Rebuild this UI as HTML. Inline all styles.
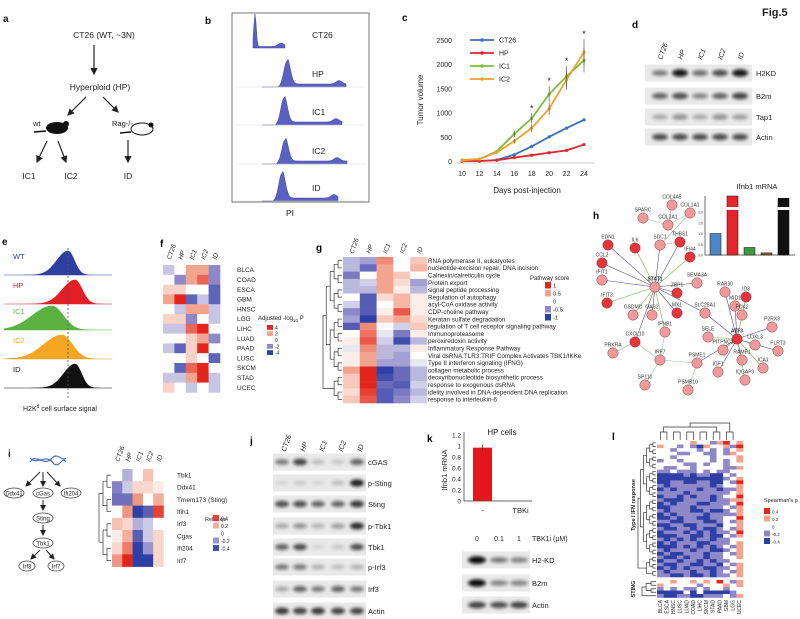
<!DOCTYPE html>
<html><head><meta charset="utf-8">
<style>
html,body{margin:0;padding:0;background:#fff;}
svg{display:block;font-family:"Liberation Sans",Arial,sans-serif;}
</style></head>
<body>
<svg id="fig" width="800" height="619" viewBox="0 0 800 619" xmlns="http://www.w3.org/2000/svg">
<defs>
<filter id="blur" x="-50%" y="-100%" width="200%" height="300%"><feGaussianBlur stdDeviation="1.6"/></filter>
<marker id="arr" markerWidth="6" markerHeight="6" refX="5" refY="3" orient="auto"><path d="M0,0L6,3L0,6z" fill="#222"/></marker>
</defs>
<text x="762" y="16" font-size="11" font-weight="bold" fill="#222">Fig.5</text>

<!-- panel a -->
<g font-size="8.5" fill="#222">
<text x="3" y="22" font-size="10" font-weight="bold">a</text>
<text x="104" y="38" text-anchor="middle">CT26 (WT, ~3N)</text>
<line x1="94" y1="45" x2="94" y2="74" stroke="#222" stroke-width="1.2" marker-end="url(#arr)"/>
<text x="100" y="90" text-anchor="middle">Hyperploid (HP)</text>
<line x1="86" y1="97" x2="68" y2="115" stroke="#222" stroke-width="1.2" marker-end="url(#arr)"/>
<line x1="103" y1="97" x2="118" y2="112" stroke="#222" stroke-width="1.2" marker-end="url(#arr)"/>
<text x="33" y="126" font-size="7.5">wt</text>
<g><ellipse cx="57" cy="128" rx="11" ry="6" fill="#111"/><circle cx="66" cy="124" r="3" fill="#111"/><path d="M46,131 L34,132" stroke="#111" stroke-width="1.5"/></g>
<text x="112" y="126" font-size="7.5">Rag-/-</text>
<g><ellipse cx="142" cy="129" rx="11" ry="6" fill="#fff" stroke="#111" stroke-width="1"/><circle cx="151" cy="125" r="2.5" fill="#111"/><path d="M131,132 L120,133" stroke="#111" stroke-width="1.5"/></g>
<line x1="47" y1="141" x2="37" y2="162" stroke="#222" stroke-width="1.2" marker-end="url(#arr)"/>
<line x1="58" y1="141" x2="66" y2="162" stroke="#222" stroke-width="1.2" marker-end="url(#arr)"/>
<line x1="128" y1="140" x2="128" y2="162" stroke="#222" stroke-width="1.2" marker-end="url(#arr)"/>
<text x="29" y="179" text-anchor="middle">IC1</text>
<text x="71" y="179" text-anchor="middle">IC2</text>
<text x="128" y="179" text-anchor="middle">ID</text>
</g>

<!-- panel b -->
<g id="pb">
<text x="205" y="24" font-size="10" font-weight="bold">b</text>
<rect x="232" y="13" width="137" height="189" fill="none" stroke="#555" stroke-width="0.8"/>
<text x="290" y="216" font-size="8.5" text-anchor="middle" fill="#222">PI</text>
</g>

<!-- panel c -->
<g id="pc">
<text x="402" y="21" font-size="10" font-weight="bold">c</text>
<text x="527" y="193" font-size="8" text-anchor="middle" fill="#222">Days post-injection</text>
<text x="0" y="0" font-size="8" text-anchor="middle" fill="#222" transform="translate(423,100) rotate(-90)">Tumor volume</text>
</g>

<!-- panel d -->
<g id="pd">
<text x="632" y="28" font-size="10" font-weight="bold">d</text>
</g>

<!-- panel e -->
<g id="pe">
<text x="2" y="245" font-size="10" font-weight="bold">e</text>
<text x="60" y="411" font-size="7" text-anchor="middle" fill="#222">H2K<tspan font-size="5" dy="-3">d</tspan><tspan dy="3"> cell surface signal</tspan></text>
</g>

<!-- panel f -->
<g id="pf">
<text x="160" y="247" font-size="10" font-weight="bold">f</text>
<text x="258" y="320" font-size="6" fill="#222">Adjusted -log<tspan font-size="4.5" dy="2">10</tspan><tspan dy="-2"> P</tspan></text>
</g>

<!-- panel g -->
<g id="pg">
<text x="316" y="251" font-size="10" font-weight="bold">g</text>
<text x="530" y="280" font-size="6" fill="#222">Pathway score</text>
</g>

<!-- panel h -->
<g id="ph">
<text x="593" y="219" font-size="10" font-weight="bold">h</text>
<text x="757" y="189" font-size="7.5" text-anchor="middle" fill="#222">Ifnb1 mRNA</text>
</g>

<!-- panel i -->
<g id="pi" font-size="6.5" fill="#222">
<text x="8" y="457" font-size="10" font-weight="bold">i</text>
<path d="M30,462 C36,452 44,468 52,458 C58,452 62,462 66,458 M30,458 C38,466 46,452 54,464 C60,468 62,456 66,462" stroke="#4a6fb5" stroke-width="1.2" fill="none"/>
<line x1="40" y1="472" x2="26" y2="486" stroke="#222" marker-end="url(#arr)"/>
<line x1="43" y1="472" x2="43" y2="486" stroke="#222" marker-end="url(#arr)"/>
<line x1="47" y1="472" x2="60" y2="486" stroke="#222" marker-end="url(#arr)"/>
<ellipse cx="14" cy="493" rx="10" ry="5" fill="none" stroke="#444" stroke-width="0.8"/><text x="14" y="495.5" text-anchor="middle" font-size="6">Ddx41</text>
<ellipse cx="43" cy="493" rx="10" ry="5" fill="none" stroke="#444" stroke-width="0.8"/><text x="43" y="495.5" text-anchor="middle" font-size="6">cGas</text>
<ellipse cx="71" cy="493" rx="10" ry="5" fill="none" stroke="#444" stroke-width="0.8"/><text x="71" y="495.5" text-anchor="middle" font-size="6">Ifi204</text>
<line x1="43" y1="500" x2="43" y2="510" stroke="#222" marker-end="url(#arr)"/>
<ellipse cx="43" cy="518" rx="10" ry="5" fill="none" stroke="#444" stroke-width="0.8"/><text x="43" y="520.5" text-anchor="middle" font-size="6">Sting</text>
<line x1="43" y1="525" x2="43" y2="535" stroke="#222" marker-end="url(#arr)"/>
<ellipse cx="43" cy="543" rx="10" ry="5" fill="none" stroke="#444" stroke-width="0.8"/><text x="43" y="545.5" text-anchor="middle" font-size="6">Tbk1</text>
<line x1="40" y1="550" x2="31" y2="559" stroke="#222" marker-end="url(#arr)"/>
<line x1="46" y1="550" x2="54" y2="559" stroke="#222" marker-end="url(#arr)"/>
<ellipse cx="27" cy="566" rx="8" ry="5" fill="none" stroke="#444" stroke-width="0.8"/><text x="27" y="568.5" text-anchor="middle" font-size="6">Irf3</text>
<ellipse cx="56" cy="566" rx="8" ry="5" fill="none" stroke="#444" stroke-width="0.8"/><text x="56" y="568.5" text-anchor="middle" font-size="6">Irf7</text>
<text x="205" y="521" font-size="5.5">Rel. expr</text>
</g>

<!-- panel j -->
<g id="pj">
<text x="250" y="444" font-size="10" font-weight="bold">j</text>
</g>

<!-- panel k -->
<g id="pk">
<text x="427" y="442" font-size="10" font-weight="bold">k</text>
<text x="502" y="435" font-size="8" text-anchor="middle" fill="#222">HP cells</text>
<text x="0" y="0" font-size="7.5" text-anchor="middle" fill="#222" transform="translate(447,470) rotate(-90)">Ifnb1 mRNA</text>
<text x="532" y="541" font-size="7" fill="#222">TBK1i (µM)</text>
</g>

<!-- panel l -->
<g id="pl">
<text x="612" y="440" font-size="10" font-weight="bold">l</text>
<text x="0" y="0" font-size="5.5" font-weight="bold" text-anchor="middle" fill="#222" transform="translate(635,505) rotate(-90)">Type I IFN response</text>
<text x="0" y="0" font-size="5.5" font-weight="bold" text-anchor="middle" fill="#222" transform="translate(635,589) rotate(-90)">STING</text>
<text x="764" y="502" font-size="5.5" fill="#222">Spearman's ρ</text>
</g>
</svg>

<script>
// ---------- data ----------
const tumorDays = [10, 12, 14, 16, 18, 20, 22, 24];
const tumorCT26 = [0, 0, 20, 130, 300, 500, 680, 850];
const tumorHP = [0, 0, 15, 70, 120, 170, 220, 340];
const tumorIC1 = [20, 40, 200, 560, 880, 1380, 1750, 2080];
const tumorIC2 = [10, 40, 180, 410, 680, 1080, 1680, 2250];
const tumorTicks = [0, 500, 1000, 1500, 2000, 2500];
const tumorStarDays = [18, 20, 22, 24];

const fRows = ["BLCA","COAD","ESCA","GBM","HNSC","LGG","LIHC","LUAD","PAAD","LUSC","SKCM","STAD","UCEC"];
const lineNames = ["CT26","HP","IC1","IC2","ID"];
const fVals = [[-1,0,2,2,-2],[0,-2,2,3,-2],[1,1,0,0,-3],[2,4,-3,-1,-3],[0,-1,2,2,-1],[1,1,-2,0,-1],[-1,-1,3,4,0],[0,0,1,2,-2],[-1,-3,1,4,0],[0,0,1,0,-3],[0,-3,3,4,0],[-1,-1,2,4,-1],[1,0,-1,0,-1]];
const fLegend = [4, 2, 0, -2, -4];

const gRows = ["RNA polymerase II, eukaryotes","nucleotide-excision repair, DNA incision","Calnexin/calreticulin cycle","Protein export","signal peptide processing","Regulation of autophagy","acyl-CoA oxidase activity","CDP-choline pathway","Keratan sulfate degradation","regulation of T cell receptor signaling pathway","Immunoproteasome","peroxiredoxin activity","Inflammatory Response Pathway","Viral dsRNA:TLR3:TRIF Complex Activates TBK1/IKKe","Type II interferon signaling (IFNG)","collagen metabolic process","deoxyribonucleotide biosynthetic process","response to exogenous dsRNA","idelity involved in DNA-dependent DNA replication","response to interleukin-6"];
const gVals = [[-0.3,-0.4,0.6,0,0.3],[-0.3,-0.7,0.5,0,0.4],[-0.6,0,0.5,0.3,0],[-0.3,-0.2,0.5,0.2,-0.4],[-0.3,-0.3,0.5,0.1,-0.3],[0,-0.8,0.2,0.4,0.1],[-0.2,-0.8,0,0.4,0.1],[-0.5,-0.8,0.1,0.8,0.1],[-0.4,-1,0.3,0.5,0.2],[-0.8,0.6,0,-0.2,0.3],[0,0.7,-0.1,-0.6,0.1],[0.1,0.8,-0.2,-0.9,-0.3],[-0.1,0.6,-0.3,-0.3,0.1],[0.1,0.5,-0.3,-0.4,0],[0.1,0.5,-0.4,-0.4,-0.1],[0.5,1,-1,-0.7,-0.3],[0.3,1,-0.9,-0.7,-0.3],[0.3,1,-0.7,-0.8,-0.2],[0.2,0.9,-0.8,-0.6,-0.3],[0.3,0.8,-0.8,-0.5,-0.2]];
const gLegend = [1, 0.5, 0, -0.5, -1];

const iRows = ["Tbk1","Ddx41","Tmem173 (Sting)","Ifih1","Irf3","Cgas","Ifi204","Irf7"];
const iVals = [[0,-0.15,0,0.15,0],[-0.25,-0.1,0.1,0.1,0.05],[-0.3,-0.3,0.25,0,0.2],[0,0.25,-0.45,-0.35,0.4],[0.15,0.1,-0.15,-0.1,0],[0.05,0.2,-0.35,-0.1,0.1],[0.1,0.3,-0.45,-0.2,0.1],[0.25,0.45,-0.45,-0.45,0.1]];
const iLegend = [0.4, 0.2, 0, -0.2, -0.4];

const lCols = ["BLCA","ESCA","HNSC","LUSC","LUAD","COAD","LIHC","SKCM","STAD","PAAD","GBM","LGG","UCEC"];
const lIfnRows = ["2222232213423","3221210322314","2212221212123","2221122112132","2212222212223","1221222212123","2222112122122","2112212222113","1121112121122","0000101100212","0000000000123","0011001100214","1011111101223","0101110110113","1111011111123","0110101101224","1000111101133","0101110011124","0011101111213","1011100100123","0101111011113","0010110011224","1100111001213","0011001110223","1001101001213","0111010101124","0001100100213","1010101101122","0101110011123","0001010101213","1011101100123","0100111011213","1001011011223","0110110101122","1001100110213","0101011001123","1011101101213","1100100101123"];
const lStingRows = ["2232232324213","3222221222323","1212112122122","0000202000012","1001100111213"];
const lLevels = [-0.4, -0.2, 0, 0.2, 0.4];

const ifnbGroups = ["CT26","HP","IC1","IC2","ID"];
const ifnbValues = [1.0, 2.6, 0.35, 0.1, 2.45];
const kGroups = ["-","TBKi"];
const kValues = [0.97, 0.0];
const kTicks = [0, 0.2, 0.4, 0.6, 0.8, 1, 1.2];

const dRows = ["H2KD","B2m","Tap1","Actin"];
const dBands = [[0.5,0.95,0.55,0.7,0.95],[0.6,0.7,0.45,0.6,0.75],[0.3,0.4,0.3,0.4,0.35],[0.7,0.7,0.7,0.7,0.7]];
const jRows = ["cGAS","p-Sting","Sting","p-Tbk1","Tbk1","p-Irf3","Irf3","Actin"];
const jBands = [[0.5,0.75,0.2,0.15,0.6],[0.1,0.15,0.1,0.2,0.9],[0.7,0.7,0.6,0.6,0.8],[0.3,0.4,0.25,0.35,0.85],[0.6,0.7,0.1,0.15,0.7],[0.5,0.5,0.25,0.2,0.25],[0.3,0.6,0.5,0.6,0.5],[0.8,0.75,0.8,0.75,0.75]];
const kDoses = ["0","0.1","1"];
const kRows = ["H2-KD","B2m","Actin"];
const kBands = [[1,0.5,0.45],[1,0.45,0.45],[0.75,0.7,0.75]];

const bNames = ["CT26","HP","IC1","IC2","ID"];
const bPeakX = [255, 287, 284, 285, 282];
const bPeakH = [34, 26, 27, 24, 28];
const bTailEnd = [285, 346, 342, 347, 338];
const eNames = ["WT","HP","IC1","IC2","ID"];
const eColors = ["#2e3f9f","#e31f26","#5cb240","#f5a623","#111111"];
const ePeakX = [68, 75, 52, 62, 75];
const ePeakSd = [8, 9, 14, 13, 8];

const netNodes = [["COL4A5",672,205,0],["SPARC",643,218,0],["COL3A1",668,225,0],["COL1A1",690,213,0],["SDC1",660,245,0],["THBS1",680,242,1],["IFI44",690,257,1],["EDN1",608,245,1],["IL6",635,248,1],["CCL2",602,263,1],["IFIT1",602,280,0],["IFIT3",607,303,1],["STAT1",655,287,0],["SEMA3A",697,283,0],["ZBP1",677,293,1],["GSDMD",633,315,0],["OAS2",652,315,0],["MX1",677,313,1],["IFNB1",665,332,0],["CXCL10",635,342,1],["PRKRA",613,353,0],["IRF7",660,360,0],["SP110",645,385,0],["PSME1",697,363,0],["PSMB10",688,390,0],["RAB30",725,292,0],["ID3",746,297,1],["MID1",735,306,0],["SLC25A1",705,313,0],["PCK2",742,315,0],["P2RX3",772,327,0],["ATF3",737,339,1],["SELE",708,337,0],["LOXL3",755,345,0],["FLRT3",778,351,0],["PITPNC1",723,350,0],["RAMB1",742,360,0],["ICA1",763,368,0],["IGF1",718,372,0],["IQGAP3",745,380,0]];
const netEdges = [["STAT1","EDN1"],["STAT1","IL6"],["STAT1","CCL2"],["STAT1","IFIT1"],["STAT1","IFIT3"],["STAT1","SDC1"],["STAT1","THBS1"],["STAT1","IFI44"],["STAT1","SEMA3A"],["STAT1","ZBP1"],["STAT1","GSDMD"],["STAT1","OAS2"],["STAT1","MX1"],["STAT1","IFNB1"],["STAT1","CXCL10"],["STAT1","SLC25A1"],["IRF7","IFNB1"],["IRF7","CXCL10"],["IRF7","PSME1"],["IRF7","SP110"],["CXCL10","PRKRA"],["PSME1","PSMB10"],["ATF3","PSME1"],["ATF3","SELE"],["ATF3","RAB30"],["ATF3","ID3"],["ATF3","MID1"],["ATF3","PCK2"],["ATF3","P2RX3"],["ATF3","LOXL3"],["ATF3","FLRT3"],["ATF3","PITPNC1"],["ATF3","RAMB1"],["ATF3","ICA1"],["ATF3","IGF1"],["ATF3","IQGAP3"],["ATF3","SLC25A1"],["SPARC","COL3A1"],["COL3A1","COL1A1"],["COL4A5","COL3A1"],["COL1A1","SDC1"],["SDC1","THBS1"],["COL3A1","THBS1"]];

// ---------- helpers ----------
const NS = "http://www.w3.org/2000/svg";
const fig = document.getElementById("fig");
function mk(tag, attrs, parent) {
  const e = document.createElementNS(NS, tag);
  for (const k in attrs) e.setAttribute(k, attrs[k]);
  (parent || fig).appendChild(e);
  return e;
}
function mix(a, b, t) {
  const pa = [parseInt(a.slice(1,3),16),parseInt(a.slice(3,5),16),parseInt(a.slice(5,7),16)];
  const pb = [parseInt(b.slice(1,3),16),parseInt(b.slice(3,5),16),parseInt(b.slice(5,7),16)];
  return "rgb(" + pa.map((v,i)=>Math.round(v+(pb[i]-v)*t)).join(",") + ")";
}
function divColor(v, max) {
  let t = Math.max(-1, Math.min(1, v / max));
  if (t >= 0) return t < 0.5 ? mix("#ffffff", "#f3a48e", t*2) : mix("#f3a48e", "#e3261d", (t-0.5)*2);
  t = -t;
  return t < 0.5 ? mix("#ffffff", "#8e88c8", t*2) : mix("#8e88c8", "#2e3fa5", (t-0.5)*2);
}
function heatmap(g, rows, vals, max, x0, y0, cw, rh) {
  rows.forEach((r, i) => {
    vals[i].forEach((v, j) => {
      const c = mk("rect", {x: x0 + j*cw, y: y0 + i*rh, width: cw + 0.3, height: rh + 0.3, fill: divColor(v, max)}, g);
      
      
    });
  });
}
function colLabels(g, names, x0, cw, y, fs) {
  names.forEach((n, j) => {
    const t = mk("text", {x: 0, y: 0, "font-size": fs, "font-style": "italic", fill: "#222", transform: `translate(${x0 + j*cw + cw/2 + 2},${y}) rotate(-70)`}, g);
    t.textContent = n;
    
    
  });
}
function rowLabels(g, names, x, y0, rh, fs) {
  names.forEach((n, i) => {
    const t = mk("text", {x: x, y: y0 + i*rh + rh/2 + fs*0.35, "font-size": fs, fill: "#222"}, g);
    t.textContent = n;
    
    
  });
}
function legend(g, levels, max, x, y0, step, fs) {
  levels.forEach((v, i) => {
    const r = mk("rect", {x: x, y: y0 + i*step, width: 6, height: step - 1.5, fill: divColor(v, max)}, g);
    
    
    const t = mk("text", {x: x + 8, y: y0 + i*step + step*0.7, "font-size": fs, fill: "#222"}, g);
    t.textContent = v;
    
    
  });
}
function blot(g, rows, bands, lanes, x0, x1, ys, rh, bw, labelX) {
  rows.forEach((name, i) => {
    const bg = mk("rect", {x: x0, y: ys[i] - rh/2, width: x1 - x0, height: rh, fill: "#e9e9e9"}, g);
    
    
    bands[i].forEach((v, j) => {
      const b = mk("ellipse", {cx: lanes[j], cy: ys[i], rx: bw, ry: 2 + v*1.8, fill: "#111", opacity: v, filter: "url(#blur)"}, g);
      
      
    });
    const t = mk("text", {x: labelX, y: ys[i] + 3, "font-size": 7.5, fill: "#222"}, g);
    t.textContent = name;
    
    
  });
}
function dendro(g, x0, x1, ys) {
  let pts = ys.map(y => [x1, y]);
  let lvl = 0;
  while (pts.length > 1) {
    const nxt = [];
    lvl++;
    const xl = x1 - (x1 - x0) * Math.min(1, lvl / (Math.log2(ys.length) + 0.5));
    for (let i = 0; i < pts.length; i += 2) {
      if (i + 1 < pts.length) {
        const a = pts[i], b = pts[i+1];
        const p = mk("path", {d: `M${a[0]},${a[1]}H${xl}V${b[1]}H${b[0]}`, stroke: "#333", "stroke-width": 0.7, fill: "none"}, g);
        
        
        nxt.push([xl, (a[1] + b[1]) / 2]);
      } else nxt.push(pts[i]);
    }
    pts = nxt;
  }
}

// ---------- panel b ----------
(function(){
  const g = document.getElementById("pb");
  const base = [48, 87, 125, 164, 201];
  bNames.forEach((n, i) => {
    let d = `M${i===0?253:262},${base[i]}`;
    for (let x = (i===0?253:262); x <= bTailEnd[i]; x += 1) {
      const sd = i === 0 ? 1.2 : 3.2;
      let h = bPeakH[i] * Math.exp(-Math.pow(x - bPeakX[i], 2) / (2*sd*sd));
      if (x > bPeakX[i]) h += (i===0 ? 1.5 : 3);
      h += 3.5 * Math.exp(-Math.pow(x - (bPeakX[i] + (i===0?26:52)), 2) / 18);
      if (x < bPeakX[i] - 8) h = Math.max(0, h - 0.5);
      d += `L${x},${base[i] - h}`;
    }
    d += `L${bTailEnd[i]},${base[i]}Z`;
    const p = mk("path", {d: d, fill: "#5b61c1", stroke: "#3e44a6", "stroke-width": 0.5}, g);
    
    
    if (i > 0) {
      const l = mk("line", {x1: 236, x2: 365, y1: base[i], y2: base[i], stroke: "#ddd", "stroke-width": 0.6}, g);
      
      
    }
    const t = mk("text", {x: 312, y: base[i] - 10, "font-size": 8.5, fill: "#222"}, g);
    t.textContent = n;
    
    
  });
})();

// ---------- panel c ----------
(function(){
  const g = document.getElementById("pc");
  const xS = d => 462 + (d - 10) * (584 - 462) / 14;
  const yS = v => 161 - v * 121 / 2500;
  const ax = mk("line", {x1: 455, x2: 595, y1: 163, y2: 163, stroke: "#999", "stroke-width": 0.6}, g);
  
  
  tumorTicks.forEach(v => {
    const t = mk("text", {x: 452, y: yS(v) + 3, "font-size": 7, "text-anchor": "end", fill: "#222"}, g);
    t.textContent = v;
    
    
  });
  tumorDays.forEach(d => {
    const t = mk("text", {x: xS(d), y: 176, "font-size": 7, "text-anchor": "middle", fill: "#222"}, g);
    t.textContent = d;
    
    
  });
  const series = [["CT26", tumorCT26, "#3a6fc0"], ["HP", tumorHP, "#e0262a"], ["IC1", tumorIC1, "#7cbd3b"], ["IC2", tumorIC2, "#f2a02c"]];
  series.forEach((s, k) => {
    const pl = mk("polyline", {points: tumorDays.map((d, i) => xS(d) + "," + yS(s[1][i])).join(" "), fill: "none", stroke: s[2], "stroke-width": 1.8}, g);
    
    
    tumorDays.forEach((d, i) => {
      const c = mk("circle", {cx: xS(d), cy: yS(s[1][i]), r: 1.6, fill: s[2]}, g);
      
      
      if (k >= 2 && i >= 3) {
        const e = mk("line", {x1: xS(d), x2: xS(d), y1: yS(s[1][i] * 1.12), y2: yS(s[1][i] * 0.88), stroke: "#444", "stroke-width": 0.6}, g);
        
        
      }
    });
    const ly = 40 + k * 13;
    const ll = mk("line", {x1: 470, x2: 494, y1: ly, y2: ly, stroke: s[2], "stroke-width": 1.8}, g);
    
    
    const lc = mk("circle", {cx: 482, cy: ly, r: 1.8, fill: s[2]}, g);
    
    
    const lt = mk("text", {x: 499, y: ly + 2.5, "font-size": 7, fill: "#222"}, g);
    lt.textContent = s[0];
    
    
  });
  tumorStarDays.forEach(d => {
    const i = tumorDays.indexOf(d);
    const top = Math.max(tumorIC1[i], tumorIC2[i]) * 1.12;
    const t = mk("text", {x: xS(d), y: yS(top) - 2, "font-size": 9, "text-anchor": "middle", fill: "#222"}, g);
    t.textContent = "*";
    
    
  });
})();

// ---------- panel d ----------
(function(){
  const g = document.getElementById("pd");
  const lanes = [660, 680, 700, 720, 740];
  colLabels(g, lineNames, 650, 20, 60, 7);
  blot(g, dRows, dBands, lanes, 645, 752, [73, 96, 117, 137], 17, 8, 756);
})();

// ---------- panel e ----------
(function(){
  const g = document.getElementById("pe");
  const base = [275, 304, 330, 359, 388];
  eNames.forEach((n, i) => {
    let d = `M4,${base[i]}`;
    for (let x = 4; x <= 112; x += 1) {
      const sd = x < ePeakX[i] ? ePeakSd[i] * 1.4 : ePeakSd[i] * 0.8;
      const h = 24 * Math.exp(-Math.pow(x - ePeakX[i], 2) / (2*sd*sd));
      d += `L${x},${base[i] - h}`;
    }
    d += `L112,${base[i]}Z`;
    const p = mk("path", {d: d, fill: eColors[i], stroke: eColors[i], "stroke-width": 0.6}, g);
    
    
    const t = mk("text", {x: 13, y: base[i] - 16, "font-size": 7.5, fill: eColors[i]}, g);
    t.textContent = n;
    
    
  });
  const dl = mk("line", {x1: 68, x2: 68, y1: 248, y2: 400, stroke: "#555", "stroke-width": 0.8, "stroke-dasharray": "2,2"}, g);
  
  
})();

// ---------- panel f ----------
(function(){
  const g = document.getElementById("pf");
  const x0 = 163, cw = 11.4, y0 = 265, rh = 9.8;
  colLabels(g, lineNames, x0, cw, 260, 6.5);
  heatmap(g, fRows, fVals, 4, x0, y0, cw, rh);
  rowLabels(g, fRows, 237, y0, rh, 6.5);
  legend(g, fLegend, 4, 267, 325, 6.3, 5);
})();

// ---------- panel g ----------
(function(){
  const g = document.getElementById("pg");
  const x0 = 343, cw = 16.8, y0 = 257, rh = 7.3;
  colLabels(g, lineNames, x0, cw, 254, 6.5);
  heatmap(g, gRows, gVals, 1, x0, y0, cw, rh);
  rowLabels(g, gRows, 428, y0, rh, 6.3);
  dendro(g, 323, 342, gRows.map((r, i) => y0 + i*rh + rh/2));
  legend(g, gLegend, 1, 545, 282, 8, 5.8);
})();

// ---------- panel h ----------
(function(){
  const g = document.getElementById("ph");
  const pos = {};
  netNodes.forEach(n => pos[n[0]] = n);
  netEdges.forEach((e, k) => {
    const a = pos[e[0]], b = pos[e[1]];
    const col = e[0] === "ATF3" ? (k % 2 ? "#7ab648" : "#4f4f9a") : (e[0] === "STAT1" ? (k % 3 === 0 ? "#4f4f9a" : (k % 3 === 1 ? "#7ab648" : "#555")) : "#9cc0a4");
    const l = mk("line", {x1: a[1], y1: a[2], x2: b[1], y2: b[2], stroke: col, "stroke-width": 0.6}, g);
    
    
  });
  netNodes.forEach(n => {
    const c = mk("circle", {cx: n[1], cy: n[2], r: 5.2, fill: n[3] ? "#e5343a" : "#ee9a9c", stroke: "#8a3a3a", "stroke-width": 0.5}, g);
    
    
    const t = mk("text", {x: n[1], y: n[2] - 6.5, "font-size": 5, "text-anchor": "middle", fill: "#333", "font-weight": (n[0]==="STAT1"||n[0]==="ATF3") ? "bold" : "normal"}, g);
    t.textContent = n[0];
    
    
  });
  const yB = v => v <= 2 ? 255 - v * (255 - 212) / 2 : 205 - (v - 2) * 15;
  const ax = mk("path", {d: "M705,196V255H795", stroke: "#333", "stroke-width": 0.7, fill: "none"}, g);
  
  
  const cols = ["#4d86c6", "#e3262b", "#3e9a3a", "#8b5a2b", "#111"];
  ifnbValues.forEach((v, i) => {
    const x = 710 + i * 17;
    const r = mk("rect", {x: x, y: yB(v), width: 11, height: 255 - yB(v), fill: cols[i], stroke: "#111", "stroke-width": 0.5}, g);
    
    
    if (v > 2) {
      const br = mk("rect", {x: x - 1, y: 207, width: 13, height: 3, fill: "#fff"}, g);
      
      
    }
  });
  [0, 0.5, 1, 1.5, 2].forEach(v => {
    const t = mk("text", {x: 703, y: yB(v) + 1.5, "font-size": 3.5, "text-anchor": "end", fill: "#333"}, g);
    t.textContent = v.toFixed(1);
    
    
  });
})();

// ---------- panel i ----------
(function(){
  const g = document.getElementById("pi");
  const x0 = 112, cw = 10.3, y0 = 469, rh = 12.2;
  colLabels(g, lineNames, x0, cw, 462, 6.5);
  heatmap(g, iRows, iVals, 0.45, x0, y0, cw, rh);
  rowLabels(g, iRows, 177, y0, rh, 6.5);
  dendro(g, 97, 111, iRows.map((r, i) => y0 + i*rh + rh/2));
  legend(g, iLegend, 0.45, 213, 515, 7.5, 5);
})();

// ---------- panel j ----------
(function(){
  const g = document.getElementById("pj");
  const lanes = [282, 300, 318, 338, 357];
  colLabels(g, lineNames, 274, 19, 452, 7);
  blot(g, jRows, jBands, lanes, 273, 366, [462, 483, 504, 526, 547, 567, 589, 611], 17, 7, 368);
})();

// ---------- panel k ----------
(function(){
  const g = document.getElementById("pk");
  const yK = v => 501 - v * (501 - 435) / 1.2;
  const ax = mk("path", {d: "M464,432V501H532", stroke: "#333", "stroke-width": 0.7, fill: "none"}, g);
  
  
  kTicks.forEach(v => {
    const t = mk("text", {x: 461, y: yK(v) + 2.5, "font-size": 6.5, "text-anchor": "end", fill: "#222"}, g);
    t.textContent = v;
    
    
  });
  kValues.forEach((v, i) => {
    const x = 473 + i * 38;
    const r = mk("rect", {x: x, y: yK(v), width: 19, height: 501 - yK(v), fill: "#e3161b"}, g);
    
    
    const t = mk("text", {x: x + 9.5, y: 513, "font-size": 7.5, "text-anchor": "middle", fill: "#222"}, g);
    t.textContent = kGroups[i];
    
    
  });
  const eb = mk("line", {x1: 482.5, x2: 482.5, y1: yK(1.02), y2: yK(0.92), stroke: "#333", "stroke-width": 0.8}, g);
  
  
  const lanes = [477, 499, 519];
  kDoses.forEach((d, j) => {
    const t = mk("text", {x: lanes[j], y: 541, "font-size": 7, "text-anchor": "middle", fill: "#222"}, g);
    t.textContent = d;
    
    
  });
  blot(g, kRows, kBands, lanes, 462, 530, [560, 583, 605], 17, 9, 532);
})();

// ---------- panel l ----------
(function(){
  const g = document.getElementById("pl");
  const x0 = 657, cw = 86 / 13, y0 = 441, rh = 136 / lIfnRows.length;
  const toVals = rows => rows.map(s => s.split("").map(c => lLevels[+c]));
  const ifn = toVals(lIfnRows), st = toVals(lStingRows);
  heatmap(g, lIfnRows, ifn, 0.4, x0, y0, cw, rh);
  heatmap(g, lStingRows, st, 0.4, x0, 580, cw, 17.5 / lStingRows.length);
  dendro(g, 638, 656, lIfnRows.map((r, i) => y0 + i*rh + rh/2));
  dendro(g, 642, 656, lStingRows.map((r, i) => 580 + i*3.5 + 1.75));
  const topPts = lCols.map((c, j) => x0 + j*cw + cw/2);
  for (let j = 0; j < topPts.length - 1; j += 2) {
    const p = mk("path", {d: `M${topPts[j]},440V432H${topPts[j+1]}V440`, stroke: "#333", "stroke-width": 0.7, fill: "none"}, g);
    
    
  }
  const p2 = mk("path", {d: `M${(topPts[0]+topPts[1])/2},432V427H${(topPts[8]+topPts[9])/2}V432 M${(topPts[4]+topPts[5])/2},427V423H${(topPts[10]+topPts[11])/2}V432`, stroke: "#333", "stroke-width": 0.7, fill: "none"}, g);
  
  
  lCols.forEach((c, j) => {
    const t = mk("text", {x: 0, y: 0, "font-size": 5, fill: "#222", "text-anchor": "end", transform: `translate(${x0 + j*cw + cw/2 + 1.5},600) rotate(-90)`}, g);
    t.textContent = c;
    
    
  });
  legend(g, [0.4, 0.2, 0, -0.2, -0.4], 0.4, 764, 508, 7.5, 4.5);
})();
</script>
</body></html>
